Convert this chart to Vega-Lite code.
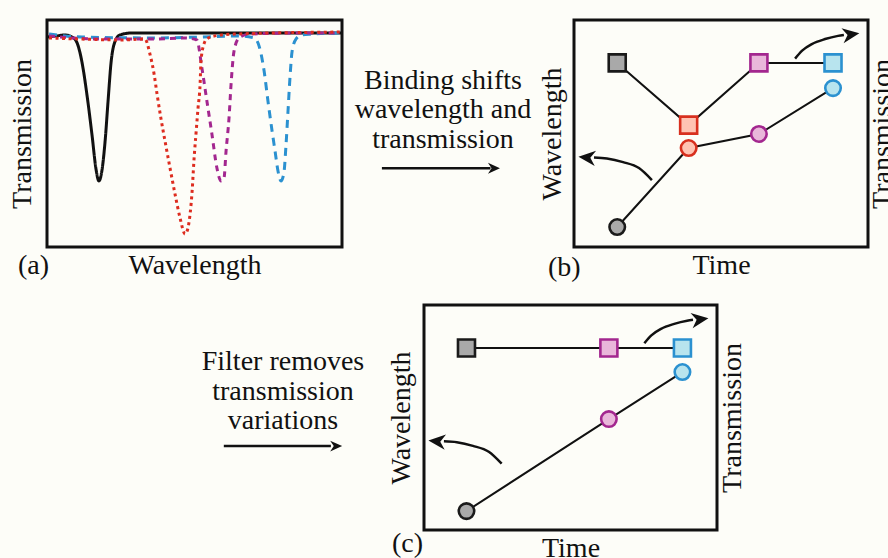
{
  "$schema": "https://vega.github.io/schema/vega-lite/v6.json",
  "background": "#fdfdf8",
  "padding": {"left": 6, "top": 18, "right": 0, "bottom": 0},
  "config": {
    "font": "Liberation Serif",
    "view": {"stroke": "#111111", "strokeWidth": 3},
    "axis": {"domain": false, "ticks": false, "labels": false, "grid": false, "titleFont": "Liberation Serif", "titleFontSize": 28, "titleFontWeight": "normal", "titleColor": "#111111", "titleBaseline": "alphabetic"},
    "text": {"font": "Liberation Serif", "fontSize": 28, "color": "#111111"}
  },
  "datasets": {
    "spectra": [
      {"series": "unbound", "wavelength": 0, "transmission": 92.5},
      {"series": "unbound", "wavelength": 3.4, "transmission": 93.0},
      {"series": "unbound", "wavelength": 6.1, "transmission": 93.4},
      {"series": "unbound", "wavelength": 8.5, "transmission": 92.5},
      {"series": "unbound", "wavelength": 10.2, "transmission": 89.9},
      {"series": "unbound", "wavelength": 11.9, "transmission": 81.1},
      {"series": "unbound", "wavelength": 13.6, "transmission": 66.5},
      {"series": "unbound", "wavelength": 15.3, "transmission": 48.9},
      {"series": "unbound", "wavelength": 16.6, "transmission": 34.4},
      {"series": "unbound", "wavelength": 17.6, "transmission": 29.1},
      {"series": "unbound", "wavelength": 18.6, "transmission": 33.5},
      {"series": "unbound", "wavelength": 19.7, "transmission": 46.7},
      {"series": "unbound", "wavelength": 20.7, "transmission": 64.3},
      {"series": "unbound", "wavelength": 21.7, "transmission": 81.1},
      {"series": "unbound", "wavelength": 23.1, "transmission": 90.7},
      {"series": "unbound", "wavelength": 24.7, "transmission": 93.4},
      {"series": "unbound", "wavelength": 28.8, "transmission": 94.3},
      {"series": "unbound", "wavelength": 52.5, "transmission": 94.3},
      {"series": "unbound", "wavelength": 75.0, "transmission": 94.3},
      {"series": "unbound", "wavelength": 100, "transmission": 94.3},
      {"series": "late", "wavelength": 0.7, "transmission": 93.8},
      {"series": "late", "wavelength": 11.9, "transmission": 92.5},
      {"series": "late", "wavelength": 35.6, "transmission": 92.1},
      {"series": "late", "wavelength": 52.5, "transmission": 92.5},
      {"series": "late", "wavelength": 64.4, "transmission": 93.0},
      {"series": "late", "wavelength": 70.2, "transmission": 92.1},
      {"series": "late", "wavelength": 71.9, "transmission": 88.5},
      {"series": "late", "wavelength": 73.6, "transmission": 77.5},
      {"series": "late", "wavelength": 74.9, "transmission": 64.3},
      {"series": "late", "wavelength": 76.3, "transmission": 51.1},
      {"series": "late", "wavelength": 77.3, "transmission": 42.3},
      {"series": "late", "wavelength": 78.3, "transmission": 33.5},
      {"series": "late", "wavelength": 79.3, "transmission": 29.1},
      {"series": "late", "wavelength": 80.3, "transmission": 32.6},
      {"series": "late", "wavelength": 81.0, "transmission": 44.5},
      {"series": "late", "wavelength": 81.7, "transmission": 59.9},
      {"series": "late", "wavelength": 82.4, "transmission": 75.3},
      {"series": "late", "wavelength": 83.1, "transmission": 86.3},
      {"series": "late", "wavelength": 84.4, "transmission": 91.6},
      {"series": "late", "wavelength": 86.4, "transmission": 93.4},
      {"series": "late", "wavelength": 89.8, "transmission": 93.8},
      {"series": "late", "wavelength": 99.3, "transmission": 94.3},
      {"series": "middle", "wavelength": 0.7, "transmission": 93.0},
      {"series": "middle", "wavelength": 8.5, "transmission": 92.1},
      {"series": "middle", "wavelength": 18.6, "transmission": 91.6},
      {"series": "middle", "wavelength": 35.6, "transmission": 91.6},
      {"series": "middle", "wavelength": 46.8, "transmission": 92.1},
      {"series": "middle", "wavelength": 50.8, "transmission": 91.2},
      {"series": "middle", "wavelength": 52.5, "transmission": 78.9},
      {"series": "middle", "wavelength": 54.2, "transmission": 64.3},
      {"series": "middle", "wavelength": 55.9, "transmission": 49.8},
      {"series": "middle", "wavelength": 57.6, "transmission": 34.8},
      {"series": "middle", "wavelength": 59.0, "transmission": 29.1},
      {"series": "middle", "wavelength": 60.0, "transmission": 30.4},
      {"series": "middle", "wavelength": 60.7, "transmission": 42.3},
      {"series": "middle", "wavelength": 61.7, "transmission": 56.8},
      {"series": "middle", "wavelength": 62.4, "transmission": 71.8},
      {"series": "middle", "wavelength": 63.4, "transmission": 86.3},
      {"series": "middle", "wavelength": 65.1, "transmission": 92.1},
      {"series": "middle", "wavelength": 68.5, "transmission": 93.8},
      {"series": "middle", "wavelength": 86.4, "transmission": 94.3},
      {"series": "middle", "wavelength": 99.3, "transmission": 94.3},
      {"series": "early", "wavelength": 0.7, "transmission": 92.1},
      {"series": "early", "wavelength": 11.9, "transmission": 91.6},
      {"series": "early", "wavelength": 25.4, "transmission": 91.2},
      {"series": "early", "wavelength": 33.2, "transmission": 91.6},
      {"series": "early", "wavelength": 34.9, "transmission": 85.0},
      {"series": "early", "wavelength": 36.3, "transmission": 76.2},
      {"series": "early", "wavelength": 37.3, "transmission": 67.4},
      {"series": "early", "wavelength": 38.6, "transmission": 56.8},
      {"series": "early", "wavelength": 40.0, "transmission": 46.7},
      {"series": "early", "wavelength": 41.7, "transmission": 34.8},
      {"series": "early", "wavelength": 43.4, "transmission": 23.3},
      {"series": "early", "wavelength": 45.1, "transmission": 12.8},
      {"series": "early", "wavelength": 46.8, "transmission": 5.7},
      {"series": "early", "wavelength": 47.5, "transmission": 7.0},
      {"series": "early", "wavelength": 48.5, "transmission": 14.5},
      {"series": "early", "wavelength": 49.2, "transmission": 24.7},
      {"series": "early", "wavelength": 49.8, "transmission": 37.9},
      {"series": "early", "wavelength": 50.5, "transmission": 49.8},
      {"series": "early", "wavelength": 51.2, "transmission": 61.2},
      {"series": "early", "wavelength": 51.9, "transmission": 71.8},
      {"series": "early", "wavelength": 52.2, "transmission": 81.9},
      {"series": "early", "wavelength": 53.2, "transmission": 89.4},
      {"series": "early", "wavelength": 54.2, "transmission": 91.6},
      {"series": "early", "wavelength": 56.9, "transmission": 93.0},
      {"series": "early", "wavelength": 63.7, "transmission": 93.8},
      {"series": "early", "wavelength": 99.3, "transmission": 94.7}
    ],
    "panelB": [
      {"stage": "unbound", "time": 14.7, "wavelength": 8.8, "transmission": 81.1},
      {"stage": "early", "time": 39.0, "wavelength": 43.6, "transmission": 53.7},
      {"stage": "middle", "time": 62.9, "wavelength": 49.8, "transmission": 81.1},
      {"stage": "late", "time": 88.1, "wavelength": 70.0, "transmission": 81.1}
    ],
    "panelC": [
      {"stage": "unbound", "time": 14.5, "wavelength": 8.4, "transmission": 80.9},
      {"stage": "middle", "time": 63.1, "wavelength": 49.3, "transmission": 80.9},
      {"stage": "late", "time": 88.2, "wavelength": 70.2, "transmission": 80.9}
    ],
    "arrowWavelength": [
      {"time": 26.5, "wavelength": 29.5},
      {"time": 22.1, "wavelength": 34.8},
      {"time": 16.7, "wavelength": 37.4},
      {"time": 11.2, "wavelength": 39.0},
      {"time": 6.8, "wavelength": 39.4}
    ],
    "arrowTransmission": [
      {"time": 75.2, "transmission": 83.0},
      {"time": 77.6, "transmission": 86.5},
      {"time": 80.9, "transmission": 89.4},
      {"time": 85.4, "transmission": 91.6},
      {"time": 89.8, "transmission": 93.0},
      {"time": 91.8, "transmission": 93.4}
    ]
  },
  "spacing": 19,
  "vconcat": [
    {
      "hconcat": [
        {
          "width": 295,
          "height": 227,
          "resolve": {"axis": {"x": "independent", "y": "independent"}},
          "layer": [
            {
              "data": {"name": "spectra"},
              "mark": {"type": "line", "strokeWidth": 3, "interpolate": "monotone", "strokeCap": "butt"},
              "encoding": {
                "x": {"field": "wavelength", "type": "quantitative", "scale": {"domain": [0, 100], "nice": false, "zero": false}, "axis": {"title": "Wavelength", "titlePadding": 26}},
                "y": {"field": "transmission", "type": "quantitative", "scale": {"domain": [0, 100], "nice": false}, "axis": {"title": "Transmission", "titlePadding": 17}},
                "color": {"field": "series", "type": "nominal", "scale": {"domain": ["unbound", "early", "middle", "late"], "range": ["#111111", "#dd2c1f", "#a3278f", "#2b91d0"]}, "legend": null},
                "strokeDash": {"field": "series", "type": "nominal", "scale": {"domain": ["unbound", "early", "middle", "late"], "range": [[1, 0], [3, 3.5], [6, 5], [8, 6]]}, "legend": null}
              }
            },
            {
              "data": {"values": [{"label": "(a)"}]},
              "mark": {"type": "text", "align": "left", "baseline": "alphabetic", "dx": -29, "dy": 27},
              "encoding": {
                "text": {"field": "label"},
                "x": {"datum": 0, "type": "quantitative", "axis": null},
                "y": {"datum": 0, "type": "quantitative", "axis": null}
              }
            }
          ]
        },
        {
          "width": 232,
          "height": 227,
          "view": {"stroke": null},
          "layer": [
            {
              "data": {"values": [{"label": "Binding shifts\nwavelength and\ntransmission"}]},
              "mark": {"type": "text", "align": "center", "baseline": "alphabetic", "lineBreak": "\n", "lineHeight": 29.5},
              "encoding": {
                "text": {"field": "label"},
                "x": {"datum": 0.435, "type": "quantitative", "scale": {"domain": [0, 1], "nice": false}, "axis": null},
                "y": {"datum": 0.697, "type": "quantitative", "scale": {"domain": [0, 1], "nice": false}, "axis": null}
              }
            },
            {
              "data": {"values": [{}]},
              "mark": {"type": "rule", "strokeWidth": 2.5, "color": "#111111"},
              "encoding": {
                "x": {"datum": 0.172, "type": "quantitative"},
                "x2": {"datum": 0.64},
                "y": {"datum": 0.347, "type": "quantitative"}
              }
            },
            {
              "data": {"values": [{}]},
              "mark": {"type": "point", "shape": "M1,0L-1,-0.9L-0.4,0L-1,0.9Z", "filled": true, "opacity": 1, "color": "#111111", "size": 144},
              "encoding": {
                "x": {"datum": 0.655, "type": "quantitative"},
                "y": {"datum": 0.347, "type": "quantitative"}
              }
            }
          ]
        },
        {
          "width": 294,
          "height": 227,
          "resolve": {"axis": {"x": "independent", "y": "independent"}},
          "layer": [
            {
              "data": {"name": "panelB"},
              "mark": {"type": "line", "color": "#111111", "strokeWidth": 2},
              "encoding": {
                "x": {"field": "time", "type": "quantitative", "scale": {"domain": [0, 100], "nice": false}, "axis": {"title": "Time", "titlePadding": 26}},
                "y": {"field": "wavelength", "type": "quantitative", "scale": {"domain": [0, 100], "nice": false}, "axis": {"title": "Wavelength", "titlePadding": 14}}
              }
            },
            {
              "data": {"name": "panelB"},
              "mark": {"type": "line", "color": "#111111", "strokeWidth": 2},
              "encoding": {
                "x": {"field": "time", "type": "quantitative", "axis": null},
                "y": {"field": "transmission", "type": "quantitative", "axis": {"orient": "right", "title": "Transmission", "titleAngle": -90, "titlePadding": 22}}
              }
            },
            {
              "data": {"name": "arrowWavelength"},
              "mark": {"type": "line", "color": "#111111", "strokeWidth": 2.5, "interpolate": "monotone"},
              "encoding": {
                "x": {"field": "time", "type": "quantitative", "axis": null},
                "y": {"field": "wavelength", "type": "quantitative", "axis": null}
              }
            },
            {
              "data": {"name": "arrowTransmission"},
              "mark": {"type": "line", "color": "#111111", "strokeWidth": 2.5, "interpolate": "monotone"},
              "encoding": {
                "x": {"field": "time", "type": "quantitative", "axis": null},
                "y": {"field": "transmission", "type": "quantitative", "axis": null}
              }
            },
            {
              "data": {"values": [{}]},
              "mark": {"type": "point", "shape": "M-1,0L1,-0.9L0.4,0L1,0.9Z", "filled": true, "opacity": 1, "color": "#111111", "size": 289, "angle": 5},
              "encoding": {
                "x": {"datum": 4.4, "type": "quantitative", "axis": null},
                "y": {"datum": 39.4, "type": "quantitative", "axis": null}
              }
            },
            {
              "data": {"values": [{}]},
              "mark": {"type": "point", "shape": "M-1,0L1,-0.9L0.4,0L1,0.9Z", "filled": true, "opacity": 1, "color": "#111111", "size": 289, "angle": 172},
              "encoding": {
                "x": {"datum": 94.2, "type": "quantitative", "axis": null},
                "y": {"datum": 93.6, "type": "quantitative", "axis": null}
              }
            },
            {
              "data": {"name": "panelB"},
              "mark": {"type": "point", "shape": "square", "filled": true, "opacity": 1, "size": 289, "strokeWidth": 2.6},
              "encoding": {
                "x": {"field": "time", "type": "quantitative", "axis": null},
                "y": {"field": "transmission", "type": "quantitative", "axis": null},
                "fill": {"field": "stage", "type": "nominal", "scale": {"domain": ["unbound", "early", "middle", "late"], "range": ["#a9a9a9", "#ffc3b3", "#e9b7da", "#b8e4ee"]}, "legend": null},
                "stroke": {"field": "stage", "type": "nominal", "scale": {"domain": ["unbound", "early", "middle", "late"], "range": ["#1a1a1a", "#d8301f", "#a3278f", "#2b91d0"]}, "legend": null}
              }
            },
            {
              "data": {"name": "panelB"},
              "mark": {"type": "point", "shape": "circle", "filled": true, "opacity": 1, "size": 240, "strokeWidth": 2.6},
              "encoding": {
                "x": {"field": "time", "type": "quantitative", "axis": null},
                "y": {"field": "wavelength", "type": "quantitative", "axis": null},
                "fill": {"field": "stage", "type": "nominal", "legend": null},
                "stroke": {"field": "stage", "type": "nominal", "legend": null}
              }
            },
            {
              "data": {"values": [{"label": "(b)"}]},
              "mark": {"type": "text", "align": "left", "baseline": "alphabetic", "dx": -26, "dy": 29},
              "encoding": {
                "text": {"field": "label"},
                "x": {"datum": 0, "type": "quantitative", "axis": null},
                "y": {"datum": 0, "type": "quantitative", "axis": null}
              }
            }
          ]
        }
      ],
      "bounds": "flush",
      "spacing": 0
    },
    {
      "hconcat": [
        {
          "width": 377,
          "height": 225,
          "view": {"stroke": null},
          "layer": [
            {
              "data": {"values": [{"label": "Filter removes\ntransmission\nvariations"}]},
              "mark": {"type": "text", "align": "center", "baseline": "alphabetic", "lineBreak": "\n", "lineHeight": 29.5},
              "encoding": {
                "text": {"field": "label"},
                "x": {"datum": 0.626, "type": "quantitative", "scale": {"domain": [0, 1], "nice": false}, "axis": null},
                "y": {"datum": 0.711, "type": "quantitative", "scale": {"domain": [0, 1], "nice": false}, "axis": null}
              }
            },
            {
              "data": {"values": [{}]},
              "mark": {"type": "rule", "strokeWidth": 2.5, "color": "#111111"},
              "encoding": {
                "x": {"datum": 0.469, "type": "quantitative"},
                "x2": {"datum": 0.753},
                "y": {"datum": 0.373, "type": "quantitative"}
              }
            },
            {
              "data": {"values": [{}]},
              "mark": {"type": "point", "shape": "M1,0L-1,-0.9L-0.4,0L-1,0.9Z", "filled": true, "opacity": 1, "color": "#111111", "size": 144},
              "encoding": {
                "x": {"datum": 0.767, "type": "quantitative"},
                "y": {"datum": 0.373, "type": "quantitative"}
              }
            }
          ]
        },
        {
          "width": 293,
          "height": 225,
          "resolve": {"axis": {"x": "independent", "y": "independent"}},
          "layer": [
            {
              "data": {"name": "panelC"},
              "mark": {"type": "line", "color": "#111111", "strokeWidth": 2},
              "encoding": {
                "x": {"field": "time", "type": "quantitative", "scale": {"domain": [0, 100], "nice": false}, "axis": {"title": "Time", "titlePadding": 26}},
                "y": {"field": "wavelength", "type": "quantitative", "scale": {"domain": [0, 100], "nice": false}, "axis": {"title": "Wavelength", "titlePadding": 15}}
              }
            },
            {
              "data": {"name": "panelC"},
              "mark": {"type": "line", "color": "#111111", "strokeWidth": 2},
              "encoding": {
                "x": {"field": "time", "type": "quantitative", "axis": null},
                "y": {"field": "transmission", "type": "quantitative", "axis": {"orient": "right", "title": "Transmission", "titleAngle": -90, "titlePadding": 23}}
              }
            },
            {
              "data": {"name": "arrowWavelength"},
              "mark": {"type": "line", "color": "#111111", "strokeWidth": 2.5, "interpolate": "monotone"},
              "encoding": {
                "x": {"field": "time", "type": "quantitative", "axis": null},
                "y": {"field": "wavelength", "type": "quantitative", "axis": null}
              }
            },
            {
              "data": {"name": "arrowTransmission"},
              "mark": {"type": "line", "color": "#111111", "strokeWidth": 2.5, "interpolate": "monotone"},
              "encoding": {
                "x": {"field": "time", "type": "quantitative", "axis": null},
                "y": {"field": "transmission", "type": "quantitative", "axis": null}
              }
            },
            {
              "data": {"values": [{}]},
              "mark": {"type": "point", "shape": "M-1,0L1,-0.9L0.4,0L1,0.9Z", "filled": true, "opacity": 1, "color": "#111111", "size": 289, "angle": 5},
              "encoding": {
                "x": {"datum": 4.4, "type": "quantitative", "axis": null},
                "y": {"datum": 39.4, "type": "quantitative", "axis": null}
              }
            },
            {
              "data": {"values": [{}]},
              "mark": {"type": "point", "shape": "M-1,0L1,-0.9L0.4,0L1,0.9Z", "filled": true, "opacity": 1, "color": "#111111", "size": 289, "angle": 172},
              "encoding": {
                "x": {"datum": 94.2, "type": "quantitative", "axis": null},
                "y": {"datum": 93.6, "type": "quantitative", "axis": null}
              }
            },
            {
              "data": {"name": "panelC"},
              "mark": {"type": "point", "shape": "square", "filled": true, "opacity": 1, "size": 289, "strokeWidth": 2.6},
              "encoding": {
                "x": {"field": "time", "type": "quantitative", "axis": null},
                "y": {"field": "transmission", "type": "quantitative", "axis": null},
                "fill": {"field": "stage", "type": "nominal", "scale": {"domain": ["unbound", "early", "middle", "late"], "range": ["#a9a9a9", "#ffc3b3", "#e9b7da", "#b8e4ee"]}, "legend": null},
                "stroke": {"field": "stage", "type": "nominal", "scale": {"domain": ["unbound", "early", "middle", "late"], "range": ["#1a1a1a", "#d8301f", "#a3278f", "#2b91d0"]}, "legend": null}
              }
            },
            {
              "data": {"name": "panelC"},
              "mark": {"type": "point", "shape": "circle", "filled": true, "opacity": 1, "size": 240, "strokeWidth": 2.6},
              "encoding": {
                "x": {"field": "time", "type": "quantitative", "axis": null},
                "y": {"field": "wavelength", "type": "quantitative", "axis": null},
                "fill": {"field": "stage", "type": "nominal", "legend": null},
                "stroke": {"field": "stage", "type": "nominal", "legend": null}
              }
            },
            {
              "data": {"values": [{"label": "(c)"}]},
              "mark": {"type": "text", "align": "left", "baseline": "alphabetic", "dx": -32, "dy": 22},
              "encoding": {
                "text": {"field": "label"},
                "x": {"datum": 0, "type": "quantitative", "axis": null},
                "y": {"datum": 0, "type": "quantitative", "axis": null}
              }
            }
          ]
        }
      ],
      "bounds": "flush",
      "spacing": 0
    }
  ]
}
